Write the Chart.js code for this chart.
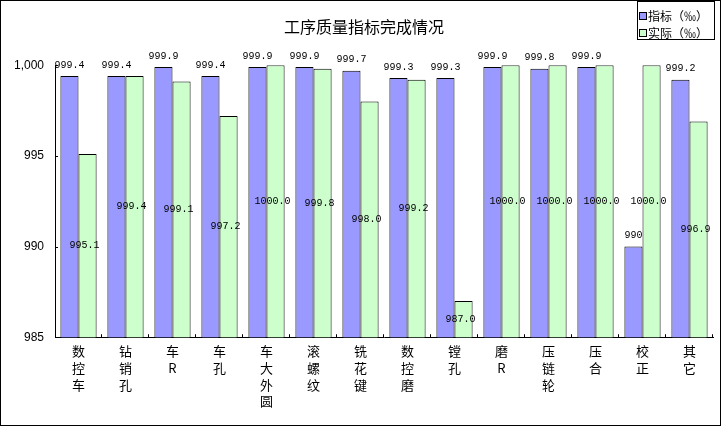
<!DOCTYPE html>
<html>
<head>
<meta charset="utf-8">
<script src="https://cdn.jsdelivr.net/npm/chart.js@4"></script>
<style>
  body { margin: 0; background: #fff; }
  #wrap { width: 721px; height: 426px; box-sizing: border-box; border: 1px solid #000; }
  canvas { display: block; }
</style>
</head>
<body>
<div id="wrap"><canvas id="chart" width="719" height="424"></canvas></div>
<script>
// dati del grafico
const categoryNames = ['数控车', '钻销孔', '车R', '车孔', '车大外圆', '滚螺纹', '铣花键', '数控磨', '镗孔', '磨R', '压链轮', '压合', '校正', '其它'];
const targetValues = [999.4, 999.4, 999.9, 999.4, 999.9, 999.9, 999.7, 999.3, 999.3, 999.9, 999.8, 999.9, 990, 999.2];
const actualValues = [995.1, 999.4, 999.1, 997.2, 1000.0, 999.8, 998.0, 999.2, 987.0, 1000.0, 1000.0, 1000.0, 1000.0, 996.9];
const yTicks = [985, 990, 995, 1000];
const seriesNames = ['指标（‰）', '实际（‰）'];
const titleText = '工序质量指标完成情况';

const CJK = '"Noto Sans CJK SC", "Noto Sans", sans-serif';

// tacche interne sugli assi
const innerTicks = {
  id: 'innerTicks',
  afterDraw(chart) {
    const ctx = chart.ctx;
    const area = chart.chartArea;
    const x = chart.scales.x;
    const y = chart.scales.y;
    ctx.save();
    ctx.strokeStyle = '#000';
    ctx.lineWidth = 1;
    ctx.beginPath();
    y.ticks.forEach((t, i) => {
      const py = Math.round(y.getPixelForTick(i)) + 0.5;
      ctx.moveTo(area.left, py);
      ctx.lineTo(area.left + 3, py);
    });
    const half = (x.getPixelForValue(1) - x.getPixelForValue(0)) / 2;
    categoryNames.forEach((c, i) => {
      const px = Math.round(x.getPixelForValue(i) + half) - 0.5;
      ctx.moveTo(px, area.bottom);
      ctx.lineTo(px, area.bottom - 3);
    });
    ctx.stroke();
    ctx.restore();
  }
};

// etichette dei valori
const valueLabels = {
  id: 'valueLabels',
  afterDatasetsDraw(chart) {
    const ctx = chart.ctx;
    const bottom = chart.scales.y.getPixelForValue(chart.scales.y.min);
    ctx.save();
    ctx.font = '10px "Liberation Mono", "DejaVu Sans Mono", monospace';
    ctx.fillStyle = '#000';
    ctx.textAlign = 'center';
    ctx.textBaseline = 'middle';
    chart.getDatasetMeta(0).data.forEach((bar, i) => {
      ctx.fillText(String(targetValues[i]), bar.x, bar.y - 11);
    });
    chart.getDatasetMeta(1).data.forEach((bar, i) => {
      ctx.fillText(actualValues[i].toFixed(1), bar.x - 3, (bar.y + bottom) / 2);
    });
    ctx.restore();
  }
};

// legenda con cornice in alto a destra
const boxLegend = {
  id: 'boxLegend',
  afterDraw(chart) {
    const ctx = chart.ctx;
    const left = 636, top = 0, w = 77, h = 38;
    ctx.save();
    ctx.strokeStyle = '#000';
    ctx.lineWidth = 1;
    ctx.fillStyle = '#fff';
    ctx.fillRect(left, top, w, h);
    ctx.strokeRect(left + 0.5, top + 0.5, w, h);
    ctx.font = '12px ' + CJK;
    ctx.textBaseline = 'middle';
    chart.data.datasets.forEach((ds, i) => {
      const cy = 15 + i * 17;
      ctx.fillStyle = ds.backgroundColor;
      ctx.fillRect(639, cy - 3, 6, 6);
      ctx.strokeRect(638.5, cy - 3.5, 7, 7);
      ctx.fillStyle = '#000';
      ctx.fillText(ds.label, 647, cy);
    });
    ctx.restore();
  }
};

new Chart(document.getElementById('chart'), {
  type: 'bar',
  data: {
    labels: categoryNames.map(n => n.split('')),
    datasets: [
      {
        label: seriesNames[0],
        data: targetValues,
        backgroundColor: '#9999FF',
        borderColor: '#000',
        borderWidth: 1,
        categoryPercentage: 0.77,
        barPercentage: 1
      },
      {
        label: seriesNames[1],
        data: actualValues,
        backgroundColor: '#CCFFCC',
        borderColor: '#000',
        borderWidth: 1,
        categoryPercentage: 0.77,
        barPercentage: 1
      }
    ]
  },
  options: {
    responsive: false,
    animation: false,
    layout: { padding: { left: 14, right: 7, top: 0, bottom: 9.2 } },
    plugins: {
      legend: { display: false },
      tooltip: { enabled: false },
      title: {
        display: true,
        text: titleText,
        color: '#000',
        font: { family: CJK, size: 16, weight: 'normal', lineHeight: 1.2 },
        padding: { top: 16, bottom: 29 }
      }
    },
    scales: {
      x: {
        grid: { display: false, drawTicks: false },
        border: { display: true, color: '#000', width: 1 },
        ticks: {
          color: '#000',
          font: { family: CJK, size: 13, lineHeight: 1.28 },
          padding: 6,
          maxRotation: 0,
          autoSkip: false
        }
      },
      y: {
        min: 985,
        max: 1000,
        afterFit: s => { s.width = 40; },
        afterBuildTicks: s => { s.ticks = yTicks.map(v => ({ value: v })); },
        grid: { display: false, drawTicks: false },
        border: { display: true, color: '#000', width: 1 },
        ticks: {
          color: '#000',
          font: { family: '"Liberation Sans", Arial, sans-serif', size: 12 },
          padding: 11
        }
      }
    }
  },
  plugins: [innerTicks, valueLabels, boxLegend]
});
</script>
</body>
</html>
